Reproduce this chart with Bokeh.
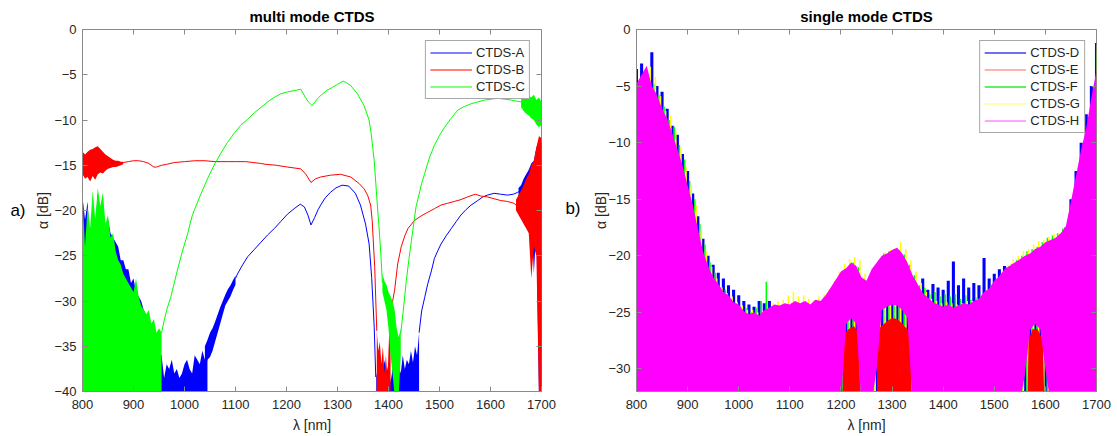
from bokeh.plotting import figure
from bokeh.layouts import row
from bokeh.models import Range1d, FixedTicker, LinearAxis, Legend, LegendItem, ColumnDataSource
from bokeh.transform import dodge
from bokeh.embed import file_html
from bokeh.resources import INLINE

FONT = "Liberation Sans"
TXT = "#262626"
AXC = "#8a8a8a"
BLUE, RED, GREEN, YELLOW, MAGENTA = "#0000ff", "#ff0000", "#00ff00", "#ffff00", "#ff00ff"

x_ticks = [800, 900, 1000, 1100, 1200, 1300, 1400, 1500, 1600, 1700]
y_ticks_a = [-40, -35, -30, -25, -20, -15, -10, -5, 0]
y_ticks_b = [-30, -25, -20, -15, -10, -5, 0]

# ---------------- multi mode (a) ----------------
# CTDS-A (blue)
A_n1_lam = [800, 805, 810, 815, 820, 825, 830, 835, 840, 845, 850, 855, 860, 865, 870, 875, 880, 885, 890, 895,
            900, 905, 910, 915, 920, 925, 930, 935, 940, 945, 950, 955, 960, 965, 970, 975, 980, 985, 990, 995,
            1000, 1005, 1010, 1015, 1020, 1025, 1030, 1035, 1040, 1045]
A_n1_hi = [-18.5, -21, -19, -24, -20, -22, -18.0, -21, -19.5, -22, -21, -22.5, -23, -23.5, -24, -25.5, -25.5, -26.5, -26.5, -28,
           -27.5, -29, -29.5, -30, -31, -31.5, -32, -33, -34, -34.5, -35.5, -36, -38.5, -37, -37.5, -36.5, -38, -37.5, -38.5, -38,
           -37, -36.5, -37.5, -38, -36, -36.5, -37, -35.5, -36.5, -35.0]
A_n2_lam = [1040, 1045, 1050, 1055, 1060, 1065, 1070, 1075, 1080, 1085, 1090, 1095, 1100]
A_n2_lo = [-37.5, -36.5, -36.2, -35.5, -34.5, -33.5, -32.5, -31.5, -30.5, -30.0, -29.5, -28.8, -28.2]
A_n2_hi = [-35.0, -34.3, -33.5, -33.0, -32.3, -31.5, -30.7, -30.0, -29.3, -28.7, -28.3, -27.7, -27.2]
A_lam1 = [1100, 1104, 1114, 1124, 1137, 1150, 1163, 1176, 1189, 1202, 1215, 1227, 1235, 1242, 1248, 1255, 1262, 1267,
          1276, 1286, 1297, 1309, 1322, 1335, 1345, 1355, 1362, 1367, 1372, 1375]
A_val1 = [-27.5, -27.0, -26.0, -25.1, -24.3, -23.5, -22.7, -22.0, -21.2, -20.4, -19.8, -19.3, -19.6, -20.5, -21.6, -20.8, -19.9, -19.4,
          -18.6, -18.0, -17.5, -17.2, -17.3, -18.1, -19.4, -21.5, -23.7, -27.4, -32.9, -38.4]
A_n3_lam = [1376, 1380, 1384, 1388, 1392, 1396, 1400, 1404, 1408, 1412, 1416, 1420, 1424, 1428, 1432, 1436, 1440, 1444,
            1448, 1452, 1456, 1460]
A_n3_hi = [-38.4, -37, -36, -38.5, -36.5, -38, -37, -39, -37.5, -38, -36.5, -37, -38, -36, -37.5, -36.5, -37, -35.5,
           -36.8, -35, -36, -33.5]
A_lam2 = [1460, 1465, 1471, 1477, 1484, 1490, 1497, 1503, 1513, 1523, 1533, 1542, 1552, 1562, 1575, 1585, 1594, 1607,
          1620, 1633, 1645, 1653, 1660]
A_val2 = [-33.5, -31.1, -29.6, -28.1, -26.7, -25.3, -24.4, -23.7, -22.8, -22.0, -21.2, -20.5, -19.9, -19.4, -18.9, -18.5, -18.3, -18.1,
          -18.2, -18.3, -18.2, -18.0, -17.8]
A_n4_lam = [1655, 1660, 1665, 1670, 1675, 1680, 1685, 1690, 1695, 1700]
A_n4_lo = [-18.5, -18.8, -19.0, -19.5, -19.2, -20.0, -27.0, -22.0, -40.5, -40.5]
A_n4_hi = [-17.5, -17.2, -16.5, -16.0, -15.5, -14.8, -14.5, -13.0, -12.5, -12.5]

# CTDS-B (red)
B_n1_lam = [800, 805, 810, 815, 820, 825, 830, 835, 840, 845, 850, 855, 860, 865, 870, 875, 880]
B_n1_lo = [-16.0, -16.5, -16.3, -16.8, -16.2, -16.6, -16.0, -15.8, -15.9, -15.6, -15.4, -15.3, -15.2, -15.2, -15.1, -15.0, -14.9]
B_n1_hi = [-13.5, -13.8, -13.5, -13.3, -13.2, -13.0, -12.9, -13.2, -13.5, -13.8, -14.0, -14.2, -14.4, -14.5, -14.5, -14.6, -14.6]
B_lam1 = [880, 890, 900, 910, 920, 930, 940, 945, 955, 965, 980, 1000, 1020, 1040, 1060, 1084, 1100, 1120, 1149, 1160,
          1180, 1202, 1228, 1238, 1248, 1257, 1267, 1286, 1306, 1326, 1342, 1352, 1359, 1365, 1368, 1373, 1377]
B_val1 = [-14.7, -14.6, -14.5, -14.5, -14.6, -14.8, -15.2, -15.2, -15.0, -14.9, -14.7, -14.6, -14.5, -14.5, -14.6, -14.6, -14.6, -14.6, -14.8, -14.9,
          -15.0, -15.2, -15.4, -16.0, -16.9, -16.5, -16.3, -16.1, -16.0, -16.3, -17.0, -17.6, -18.3, -19.4, -21.1, -26.3, -33.3]
B_n2_lam = [1377, 1380, 1383, 1386, 1389, 1392, 1395, 1398, 1401, 1404]
B_n2_hi = [-33.3, -35.5, -34.5, -37, -35, -38, -36, -38.5, -34, -31.5]
B_lam2 = [1404, 1405, 1412, 1418, 1425, 1432, 1438, 1451, 1464, 1477, 1490, 1503, 1516, 1529, 1542, 1555, 1570, 1581,
          1594, 1607, 1620, 1633, 1646, 1650]
B_val2 = [-31.5, -31.0, -28.8, -25.9, -24.0, -22.8, -22.0, -21.1, -20.6, -20.2, -19.8, -19.4, -19.2, -19.0, -18.8, -18.5, -18.2, -18.4,
          -18.5, -18.7, -18.9, -19.0, -19.2, -19.4]
B_n3_lam = [1650, 1655, 1660, 1665, 1670, 1675, 1680, 1685, 1690, 1695, 1700]
B_n3_lo = [-20.0, -20.5, -21.0, -21.5, -22.0, -22.5, -27.5, -24.0, -25.0, -40.5, -40.5]
B_n3_hi = [-18.8, -18.3, -17.8, -17.2, -16.5, -16.0, -15.0, -14.5, -13.0, -11.8, -12.0]

# CTDS-C (green)
C_n1_lam = [800, 805, 810, 815, 820, 825, 830, 835, 840, 845, 850, 855, 860, 865, 870, 875, 880, 885, 890, 895,
            900, 905, 910, 915, 920, 925, 930, 935, 940, 945, 950, 955]
C_n1_hi = [-18.5, -24, -19.5, -22, -17.8, -21, -17.5, -19.5, -18, -21.5, -20.5, -23, -22.5, -24.5, -25.5, -26, -27, -27.5, -28, -28.5,
           -29, -27.5, -29.5, -30.5, -31, -31.5, -31, -32.5, -32, -33.5, -33, -33.5]
C_lam1 = [955, 960, 966, 973, 980, 986, 996, 1006, 1015, 1019, 1032, 1045, 1058, 1071, 1084, 1097, 1110, 1124, 1137, 1150,
          1163, 1176, 1189, 1202, 1215, 1228, 1237, 1243, 1250, 1256, 1263, 1271, 1280, 1290, 1300, 1311, 1318, 1326, 1339, 1352,
          1362, 1366, 1372, 1378, 1381, 1385, 1388]
C_val1 = [-33.5, -32.2, -30.8, -29.6, -28.0, -26.6, -24.5, -22.6, -20.6, -20.0, -18.2, -16.5, -15.0, -13.7, -12.5, -11.5, -10.6, -9.9, -9.2, -8.6,
          -8.0, -7.5, -7.1, -6.9, -6.75, -6.6, -7.5, -8.0, -8.4, -8.0, -7.5, -7.1, -6.7, -6.4, -6.05, -5.7, -5.9, -6.2, -7.1, -8.4,
          -10.0, -11.5, -14.5, -19.3, -21.5, -24.8, -28.0]
C_n2_lam = [1388, 1392, 1396, 1400, 1404, 1408, 1412, 1416, 1420, 1424]
C_n2_lo = [-29, -30, -31, -33, -36, -38, -40.5, -40.5, -40.5, -36]
C_n2_hi = [-27, -27.8, -28.2, -29, -29.5, -30, -31, -33, -34, -33]
C_lam2 = [1424, 1430, 1435, 1440, 1445, 1450, 1454, 1460, 1465, 1471, 1480, 1490, 1500, 1510, 1523, 1536, 1549, 1562, 1575, 1588,
          1601, 1614, 1627, 1641, 1650, 1660]
C_val2 = [-33.6, -30.5, -27.7, -25.4, -23.3, -21.2, -19.6, -18.2, -17.0, -15.9, -14.2, -12.8, -11.7, -10.8, -9.8, -8.9, -8.5, -8.2, -8.0, -7.8,
          -7.7, -7.6, -7.7, -7.8, -7.9, -8.0]
C_n3_lam = [1660, 1665, 1670, 1675, 1680, 1685, 1690, 1695, 1700]
C_n3_lo = [-8.6, -9.0, -9.3, -9.5, -9.8, -10.0, -10.5, -10.8, -10.5]
C_n3_hi = [-7.6, -7.5, -7.4, -7.3, -7.5, -7.2, -7.8, -7.5, -8.0]

# ---------------- single mode (b) ----------------
lam_b = list(range(800, 1701, 10))
D_hi = [-3.5, -3.0, -4.0, -2.0, -5.0, -5.5, -7.0, -8.5, -9.3, -11.0,
        -12.5, -14.5, -16.5, -18.5, -20.0, -20.8, -21.5, -22.0, -22.6, -23.0,
        -23.5, -24.0, -24.3, -24.5, -24.0, -24.2, -24.0, -24.5, -24.8, -24.9,
        -24.6, -24.8, -24.6, -24.9, -24.8, -24.5, -24.4, -24.0, -23.4, -22.7,
        -22.0, -21.6, -21.3, -21.4, -22.6, -22.8, -22.0, -21.2, -20.6, -20.4,
        -20.2, -19.8, -20.4, -21.2, -22.2, -22.8, -22.0, -23.0, -22.5, -22.8,
        -23.0, -22.2, -20.5, -22.6, -22.0, -22.8, -22.4, -22.6, -20.2, -22.0,
        -21.6, -21.2, -20.9, -20.9, -20.7, -20.5, -20.2, -19.9, -19.7, -19.4,
        -19.0, -18.8, -18.6, -18.2, -17.5, -15.0, -12.5, -10.0, -7.5, -5.0,
        -1.2]
F_hi = [-5.0, -4.6, -4.5, -4.8, -5.8, -6.8, -8.0, -8.6, -10.2, -11.5,
        -13.4, -15.0, -17.2, -19.0, -20.6, -21.5, -22.8, -23.0, -23.8, -24.2,
        -24.5, -24.6, -25.0, -24.6, -24.0, -22.3, -24.5, -24.6, -24.5, -24.6,
        -24.2, -24.6, -24.3, -24.6, -24.4, -24.2, -24.1, -23.8, -22.9, -22.2,
        -21.5, -21.0, -20.6, -21.0, -22.2, -22.0, -21.5, -20.4, -19.8, -19.6,
        -19.4, -19.5, -19.9, -20.8, -21.7, -22.6, -22.8, -23.4, -23.2, -23.6,
        -23.4, -23.6, -23.4, -23.8, -23.5, -23.9, -23.7, -23.5, -23.1, -22.6,
        -22.2, -21.6, -21.0, -20.7, -20.4, -20.0, -19.6, -19.4, -19.2, -18.8,
        -18.4, -18.2, -18.0, -17.6, -17.0, -15.5, -13.0, -11.2, -8.8, -5.8,
        -2.0]
G_hi = [-4.8, -4.0, -3.3, -4.2, -5.9, -7.2, -7.6, -9.0, -10.4, -12.2,
        -13.8, -15.6, -17.8, -19.6, -21.0, -22.0, -22.8, -23.3, -23.6, -24.1,
        -24.4, -24.8, -24.8, -25.0, -24.9, -24.6, -24.2, -24.0, -23.9, -23.5,
        -23.2, -23.6, -23.5, -23.8, -23.9, -23.6, -23.4, -23.0, -22.2, -21.4,
        -20.7, -20.3, -20.1, -20.4, -21.6, -21.9, -21.0, -20.2, -19.7, -19.5,
        -19.3, -18.8, -19.4, -20.4, -21.4, -22.4, -23.2, -23.8, -24.0, -24.2,
        -24.1, -24.2, -24.3, -24.2, -24.0, -24.0, -23.8, -23.5, -23.0, -22.5,
        -22.0, -21.4, -20.8, -20.3, -20.0, -19.6, -19.4, -19.0, -18.7, -18.6,
        -18.3, -18.1, -18.0, -17.6, -17.0, -15.6, -13.2, -11.0, -8.8, -6.2,
        -1.3]
H_hi = [-4.8, -4.0, -3.2, -5.0, -5.8, -7.0, -7.9, -9.2, -10.6, -12.0,
        -13.8, -15.5, -17.6, -19.6, -20.9, -21.9, -22.5, -23.2, -23.5, -24.1,
        -24.3, -24.9, -25.2, -25.0, -25.3, -24.8, -24.6, -24.3, -24.4, -24.2,
        -24.3, -24.0, -24.2, -24.0, -24.3, -23.9, -24.0, -23.5, -22.8, -22.1,
        -21.4, -21.1, -20.6, -20.9, -21.9, -22.2, -21.2, -20.6, -20.0, -19.8,
        -19.5, -19.3, -19.8, -20.6, -21.7, -22.5, -23.3, -23.7, -24.1, -24.3,
        -24.5, -24.3, -24.6, -24.4, -24.2, -24.3, -24.0, -23.8, -23.2, -22.9,
        -22.2, -21.8, -21.2, -20.9, -20.6, -20.3, -20.0, -19.8, -19.4, -19.2,
        -18.8, -18.6, -18.4, -18.0, -17.4, -15.2, -12.9, -10.6, -8.7, -6.0,
        -3.6]
H_lo = ([-33] * 40 +
        [-33, -26.0, -25.5, -26.0, -33, -33, -33, -30.0, -24.8, -24.5,
         -24.3, -24.4, -24.8, -25.5, -33, -33, -33, -33, -33, -33] +
        [-33] * 10 +
        [-33, -33, -33, -33, -33, -33, -30.5, -26.5, -26.0, -26.5,
         -30.0, -33, -33, -33, -33, -33, -33, -33, -33, -33, -33])
E_lam = [[1203, 1205, 1215, 1225, 1235, 1238],
         [1270, 1272, 1280, 1290, 1300, 1310, 1320, 1330, 1336, 1338],
         [1565, 1567, 1575, 1585, 1595, 1598]]
E_hi = [[-33, -27.0, -26.5, -26.2, -26.8, -33],
        [-33, -26.5, -26.2, -25.8, -25.5, -25.6, -26.0, -26.5, -27.0, -33],
        [-33, -27.5, -26.5, -26.5, -27.5, -33]]
BASE = -33


def style(p, yticks, label_standoff, tag, tag_y, tag_standoff):
    p.xgrid.visible = False
    p.ygrid.visible = False
    p.outline_line_color = AXC
    p.outline_line_width = 1
    p.xaxis.ticker = FixedTicker(ticks=x_ticks)
    p.yaxis.ticker = FixedTicker(ticks=yticks)
    p.xaxis.axis_label = "λ [nm]"
    p.yaxis.axis_label = "α [dB]"
    for ax in (p.xaxis[0], p.yaxis[0]):
        ax.major_label_text_font = FONT
        ax.major_label_text_font_size = "13px"
        ax.major_label_text_color = TXT
        ax.axis_label_text_font = FONT
        ax.axis_label_text_font_size = "14px"
        ax.axis_label_text_font_style = "normal"
        ax.axis_label_text_color = TXT
        ax.axis_line_color = AXC
        ax.major_tick_line_color = AXC
        ax.major_tick_in = 5
        ax.major_tick_out = 0
        ax.minor_tick_line_color = None
    p.xaxis.major_label_standoff = 8
    p.xaxis.axis_label_standoff = 5
    p.yaxis.major_label_standoff = 6
    p.yaxis.axis_label_standoff = label_standoff
    top = LinearAxis(ticker=FixedTicker(ticks=x_ticks), major_label_text_color=None,
                     major_label_text_font_size="0px",
                     major_tick_in=5, major_tick_out=0, major_tick_line_color=AXC,
                     minor_tick_line_color=None, axis_line_color=None, major_label_standoff=0)
    right = LinearAxis(ticker=FixedTicker(ticks=yticks), major_label_text_color=None,
                       major_label_text_font_size="0px",
                       major_tick_in=5, major_tick_out=0, major_tick_line_color=AXC,
                       minor_tick_line_color=None, axis_line_color=None, major_label_standoff=0)
    p.add_layout(top, "above")
    p.add_layout(right, "right")
    # panel tag "a)" / "b)" as the single label of an outer left axis
    tag_ax = LinearAxis(ticker=FixedTicker(ticks=[tag_y]), major_label_overrides={tag_y: tag},
                        major_label_text_font=FONT, major_label_text_font_size="17px",
                        major_label_text_color="#000000", major_tick_line_color=None,
                        major_tick_in=0, major_tick_out=0, minor_tick_line_color=None,
                        axis_line_color=None, major_label_standoff=tag_standoff)
    p.add_layout(tag_ax, "left")
    p.title.align = "center"
    p.title.text_font = FONT
    p.title.text_font_size = "15px"
    p.title.text_font_style = "bold"
    p.title.text_color = "#000000"


def legend(p, items):
    lg = Legend(items=items, location="top_right", label_text_font=FONT, label_text_font_size="13px",
                label_text_color=TXT, glyph_width=42, glyph_height=15, label_height=15, spacing=2,
                padding=4, margin=11, label_standoff=4, border_line_color="#505050", border_line_width=1,
                background_fill_color="white", background_fill_alpha=1.0)
    p.add_layout(lg)


p1 = figure(width=558, height=436, x_range=Range1d(800, 1700), y_range=Range1d(-40, 0),
            output_backend="svg", toolbar_location=None, title="multi mode CTDS",
            min_border_left=82, min_border_right=17, min_border_top=29, min_border_bottom=45)
style(p1, y_ticks_a, 0, "a)", -20, 7)

# A
p1.varea(x=A_n1_lam, y1=-41, y2=A_n1_hi, fill_color=BLUE)
p1.varea(x=A_n2_lam, y1=A_n2_lo, y2=A_n2_hi, fill_color=BLUE)
rA = p1.line(A_lam1, A_val1, line_color=BLUE, line_width=1)
p1.varea(x=A_n3_lam, y1=-41, y2=A_n3_hi, fill_color=BLUE)
p1.line(A_lam2, A_val2, line_color=BLUE, line_width=1)
p1.varea(x=A_n4_lam, y1=A_n4_lo, y2=A_n4_hi, fill_color=BLUE)
# B
p1.varea(x=B_n1_lam, y1=B_n1_lo, y2=B_n1_hi, fill_color=RED)
rB = p1.line(B_lam1, B_val1, line_color=RED, line_width=1)
p1.varea(x=B_n2_lam, y1=-41, y2=B_n2_hi, fill_color=RED)
p1.line(B_lam2, B_val2, line_color=RED, line_width=1)
p1.varea(x=B_n3_lam, y1=B_n3_lo, y2=B_n3_hi, fill_color=RED)
# C
p1.varea(x=C_n1_lam, y1=-41, y2=C_n1_hi, fill_color=GREEN)
rC = p1.line(C_lam1, C_val1, line_color=GREEN, line_width=1)
p1.varea(x=C_n2_lam, y1=C_n2_lo, y2=C_n2_hi, fill_color=GREEN)
p1.line(C_lam2, C_val2, line_color=GREEN, line_width=1)
p1.varea(x=C_n3_lam, y1=C_n3_lo, y2=C_n3_hi, fill_color=GREEN)

legend(p1, [LegendItem(label="CTDS-A", renderers=[rA]),
            LegendItem(label="CTDS-B", renderers=[rB]),
            LegendItem(label="CTDS-C", renderers=[rC])])

p2 = figure(width=559, height=436, x_range=Range1d(800, 1700), y_range=Range1d(-32, 0),
            output_backend="svg", toolbar_location=None, title="single mode CTDS",
            min_border_left=78, min_border_right=21, min_border_top=29, min_border_bottom=45)
style(p2, y_ticks_b, -4, "b)", -15.85, 10)

p2.vbar(x=lam_b, top=D_hi, bottom=BASE, width=6, fill_color=BLUE, line_color=None)
srcF = ColumnDataSource(dict(x=lam_b, top=F_hi))
srcG = ColumnDataSource(dict(x=lam_b, top=G_hi))
p2.vbar(x=dodge("x", 4.0, range=p2.x_range), top="top", bottom=BASE, width=3, source=srcF,
        fill_color=GREEN, line_color=None)
p2.vbar(x=dodge("x", 7.0, range=p2.x_range), top="top", bottom=BASE, width=3, source=srcG,
        fill_color=YELLOW, line_color=None)
p2.patches(xs=E_lam, ys=E_hi, fill_color=RED, line_color=None)
p2.varea(x=lam_b, y1=H_lo, y2=H_hi, fill_color=MAGENTA)

off_x = [0, 1]
off_y = [-100, -100]
dD = p2.line(off_x, off_y, line_color="#4040e8", line_width=1.5)
dE = p2.line(off_x, off_y, line_color="#ff9898", line_width=1.5)
dF = p2.line(off_x, off_y, line_color="#30e830", line_width=1.5)
dG = p2.line(off_x, off_y, line_color="#ffff90", line_width=1.5)
dH = p2.line(off_x, off_y, line_color="#ff88ff", line_width=1.5)
legend(p2, [LegendItem(label="CTDS-D", renderers=[dD]),
            LegendItem(label="CTDS-E", renderers=[dE]),
            LegendItem(label="CTDS-F", renderers=[dF]),
            LegendItem(label="CTDS-G", renderers=[dG]),
            LegendItem(label="CTDS-H", renderers=[dH])])

layout = row(p1, p2)
open("out.html", "w").write(file_html(layout, INLINE))
